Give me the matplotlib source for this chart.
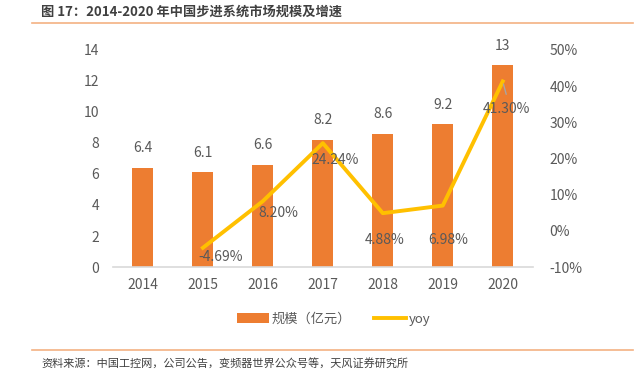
import matplotlib
matplotlib.use("Agg")
import matplotlib.pyplot as plt
from matplotlib.lines import Line2D
from matplotlib.patches import Patch

plt.rcParams['font.family'] = ['Noto Sans CJK SC', 'DejaVu Sans']

years = ['2014', '2015', '2016', '2017', '2018', '2019', '2020']
scale = [6.4, 6.1, 6.6, 8.2, 8.6, 9.2, 13]
yoy = [None, -4.69, 8.20, 24.24, 4.88, 6.98, 41.30]
# label offsets in pixels (dx, dy) for yoy labels
yoy_offsets = [None, (18, -9), (15, -12), (12, -17), (2, -27), (5, -34), (4, -28)]

gray = '#595959'
fig = plt.figure(figsize=(6.38, 3.89), dpi=100)
ax = fig.add_axes([0.177, 0.3136, 0.658, 0.558])
ax2 = ax.twinx()

x = list(range(len(years)))
bars = ax.bar(x, scale, width=0.35, color='#ED7D31', zorder=2)
for xi, v in zip(x, scale):
    ax.annotate(f'{v:g}', (xi, v), xytext=(0, 9), textcoords='offset points',
                ha='center', va='bottom', fontsize=10, color=gray)

ax.set_xlim(-0.5, 6.5)
ax.set_ylim(0, 14)
ax.set_yticks(range(0, 15, 2))
ax.set_xticks(x)
ax.set_xticklabels(years)
for s in ['top', 'left', 'right']:
    ax.spines[s].set_visible(False)
ax.spines['bottom'].set_color('#D9D9D9')
ax.spines['bottom'].set_linewidth(1.2)
ax.tick_params(axis='both', length=0, labelsize=10, labelcolor=gray)
ax.tick_params(axis='x', pad=8)
ax.tick_params(axis='y', pad=10)

yx = [xi for xi, v in zip(x, yoy) if v is not None]
yv = [v for v in yoy if v is not None]
ax2.plot(yx, yv, color='#FFC000', linewidth=2.8, solid_joinstyle='round', zorder=3)
ax2.set_ylim(-10, 50)
ax2.set_yticks(range(-10, 51, 10))
ax2.set_yticklabels([f'{t}%' for t in range(-10, 51, 10)])
for s in ['top', 'left', 'right', 'bottom']:
    ax2.spines[s].set_visible(False)
ax2.tick_params(axis='y', length=0, labelsize=10, labelcolor=gray, pad=12)

for xi, v, off in zip(x, yoy, yoy_offsets):
    if v is None:
        continue
    ax2.annotate(f'{v:.2f}%', (xi, v), xytext=(off[0] * 0.72, off[1] * 0.72),
                 textcoords='offset points', ha='center', va='center',
                 fontsize=10, color=gray, zorder=4)
# leader line for last label
ax2.annotate('', (6, 41.30), xytext=(6.07, 37.0), textcoords='data',
             arrowprops=dict(arrowstyle='-', color='#A6A6A6', lw=1))

handles = [Patch(facecolor='#ED7D31', label='规模（亿元）'),
           Line2D([0], [0], color='#FFC000', lw=2.8, label='yoy')]
fig.legend(handles=handles, loc='center left', bbox_to_anchor=(237 / 638, 1 - 319 / 389),
           ncol=2, frameon=False, fontsize=9.5, labelcolor=gray, borderpad=0,
           borderaxespad=0, handlelength=2.4, handleheight=0.8, columnspacing=1.7,
           handletextpad=0.25)

fig.text(41 / 638, 1 - 12 / 389, '图 17：2014-2020 年中国步进系统市场规模及增速',
         fontsize=9.5, fontweight='bold', color='#404040', va='center', ha='left')
fig.add_artist(Line2D([32 / 638, 633 / 638], [1 - 23 / 389] * 2, color='#F4B183', lw=1.2))
fig.add_artist(Line2D([32 / 638, 633 / 638], [1 - 350 / 389] * 2, color='#F4B183', lw=1.2))
fig.text(41 / 638, 1 - 363 / 389, '资料来源：中国工控网，公司公告，变频器世界公众号等，天风证券研究所',
         fontsize=8, color='#404040', va='center', ha='left')

fig.savefig('out.png', dpi=100)
